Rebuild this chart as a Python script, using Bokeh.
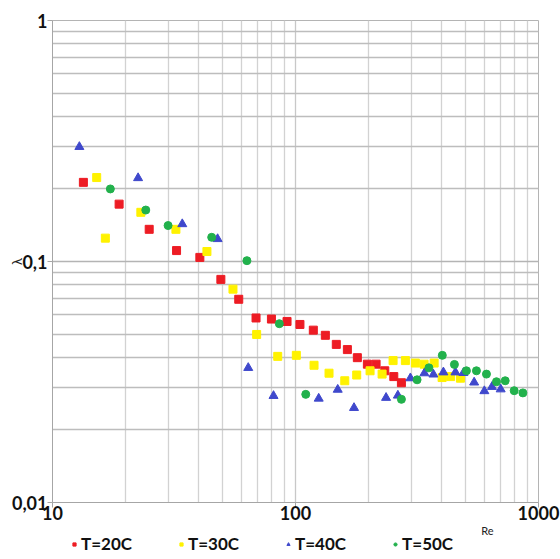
from bokeh.plotting import figure
from bokeh.layouts import column
from bokeh.models import FixedTicker, Legend, LegendItem, Label
from bokeh.embed import file_html
from bokeh.resources import INLINE

# ---- data ----
re_20 = [13.4, 18.8, 25.0, 32.4, 40.4, 49.3, 58.4, 68.8, 79.6, 92.3, 104.3,
         118.4, 132.7, 147.2, 163.5, 179.7, 197.6, 214.6, 233.0, 253.8, 272.8]
lam_20 = [0.213, 0.173, 0.136, 0.111, 0.104, 0.0843, 0.0697, 0.0583, 0.0577, 0.0564, 0.0548,
          0.0519, 0.0494, 0.0453, 0.0431, 0.0399, 0.0375, 0.0375, 0.0352, 0.0333, 0.0314]

re_30 = [15.2, 16.5, 23.1, 32.2, 43.2, 55.3, 69.2, 84.5, 100.8, 119.2, 137.4, 159.5,
         178.6, 202.7, 227.2, 252.1, 283.3, 311.4, 338.2, 372.0, 401.2, 434.9, 477.2]
lam_30 = [0.223, 0.125, 0.160, 0.136, 0.110, 0.0768, 0.0498, 0.0404, 0.0408, 0.0371, 0.0344, 0.0320,
          0.0338, 0.0352, 0.0341, 0.0388, 0.0388, 0.0379, 0.0375, 0.0379, 0.0330, 0.0333, 0.0328]

re_40 = [12.9, 22.5, 34.2, 47.8, 63.9, 81.2, 124.6, 149.2, 174.1, 235.9, 263.8,
         297.0, 339.2, 369.4, 406.1, 455.1, 491.0, 543.5, 598.7, 643.5, 698.8]
lam_40 = [0.299, 0.222, 0.143, 0.124, 0.0362, 0.0277, 0.0270, 0.0294, 0.0247, 0.0272, 0.0278,
          0.0328, 0.0344, 0.0340, 0.0347, 0.0347, 0.0345, 0.0315, 0.0290, 0.0302, 0.0295]

re_50 = [17.3, 24.2, 29.9, 45.2, 63.1, 85.8, 110.2, 272.8, 316.5, 354.0,
         401.9, 450.8, 505.1, 555.4, 610.7, 671.4, 729.4, 794.2, 862.4]
lam_50 = [0.200, 0.1635, 0.141, 0.126, 0.1008, 0.0552, 0.0281, 0.0268, 0.0323, 0.0362,
          0.0408, 0.0374, 0.0352, 0.0352, 0.0341, 0.0317, 0.0320, 0.0291, 0.0285]

series_labels = ["T=20C", "T=30C", "T=40C", "T=50C"]
series_colors = ["#ed1c24", "#fff200", "#3f48cc", "#22b14c"]
series_markers = ["square", "square", "triangle", "circle"]

x_ticks = [10, 100, 1000]
x_tick_labels = ["10", "100", "1000"]
y_ticks = [0.01, 0.1, 1]
y_tick_labels = ["0,01", "0,1", "1"]
x_title, y_title = "Re", "λ"

x_minor = [m * d for d in (10, 100) for m in range(2, 10)]
y_minor = [m * d for d in (0.01, 0.1) for m in range(2, 10)]

FONT = "Lato"

p = figure(frame_width=486, frame_height=482, x_axis_type="log", y_axis_type="log",
           x_range=(10, 1000), y_range=(0.01, 1),
           output_backend="svg", toolbar_location=None,
           min_border_left=52, min_border_right=22, min_border_top=20, min_border_bottom=0)

p.background_fill_color = "white"
p.border_fill_color = "white"
p.outline_line_color = "#b4b4b4"

p.xaxis.ticker = FixedTicker(ticks=x_ticks, minor_ticks=x_minor)
p.yaxis.ticker = FixedTicker(ticks=y_ticks, minor_ticks=y_minor)
p.xaxis.major_label_overrides = {t: s for t, s in zip(x_ticks, x_tick_labels)}
p.yaxis.major_label_overrides = {t: s for t, s in zip(y_ticks, y_tick_labels)}

for ax in (p.xaxis, p.yaxis):
    ax.axis_line_color = "#a6a6a6"
    ax.major_tick_line_color = "#a6a6a6"
    ax.major_tick_out = 5
    ax.major_tick_in = 0
    ax.minor_tick_line_color = None
    ax.major_label_text_font = FONT
    ax.major_label_text_font_style = "bold"
    ax.major_label_text_font_size = "18px"
    ax.major_label_text_color = "#111111"
p.yaxis.major_label_standoff = 0
p.xaxis.major_label_standoff = -2

p.yaxis.axis_label = y_title
p.yaxis.axis_label_standoff = -16
p.yaxis.axis_label_text_font = FONT
p.yaxis.axis_label_text_font_style = "normal"
p.yaxis.axis_label_text_font_size = "13px"
p.yaxis.axis_label_text_color = "#222222"

p.xgrid.grid_line_color = "#c8c8c8"
p.xgrid.grid_line_width = 1.3
p.xgrid.minor_grid_line_color = "#d2d2d2"
p.xgrid.minor_grid_line_width = 1.3
p.ygrid.grid_line_color = "#b4b4b4"
p.ygrid.grid_line_width = 1.5
p.ygrid.minor_grid_line_color = "#bdbdbd"
p.ygrid.minor_grid_line_width = 1.3

all_x = [re_20, re_30, re_40, re_50]
all_y = [lam_20, lam_30, lam_40, lam_50]
sizes = [8, 8, 9, 8]
for xs, ys, c, m, s in zip(all_x, all_y, series_colors, series_markers, sizes):
    p.scatter(xs, ys, marker=m, size=s, fill_color=c, line_color=c)

# ---- strip below the chart: "Re" title and the legend ----
leg = figure(width=560, height=32, x_range=(0, 1), y_range=(0, 1),
             x_axis_location=None, y_axis_location=None,
             output_backend="svg", toolbar_location=None,
             min_border_left=0, min_border_right=0, min_border_top=0, min_border_bottom=0)
leg.xgrid.visible = False
leg.ygrid.visible = False
leg.outline_line_color = None
leg.background_fill_color = "white"
leg.border_fill_color = "white"

# one off-range point each so the legend swatches have something to draw
leg_renderers = [leg.scatter([5], [5], marker=m, size=7, fill_color=c, line_color=c)
                 for c, m in zip(series_colors, series_markers)]

legend = Legend(items=[LegendItem(label=l, renderers=[r]) for l, r in
                       zip(series_labels, leg_renderers)],
                orientation="horizontal", location=(18, 0),
                glyph_width=8, glyph_height=18, label_height=18, label_standoff=3, spacing=45,
                padding=0, margin=0,
                border_line_color=None, background_fill_alpha=0,
                label_text_font=FONT, label_text_font_style="bold",
                label_text_font_size="17px", label_text_color="#111111")
leg.add_layout(legend, "center")

leg.add_layout(Label(x=435, y=24, x_units="screen", y_units="screen", text=x_title,
                     text_align="center", text_baseline="middle",
                     text_font=FONT, text_font_size="11px", text_color="#222222"))

open("out.html", "w").write(file_html(column(p, leg, spacing=0), INLINE))
